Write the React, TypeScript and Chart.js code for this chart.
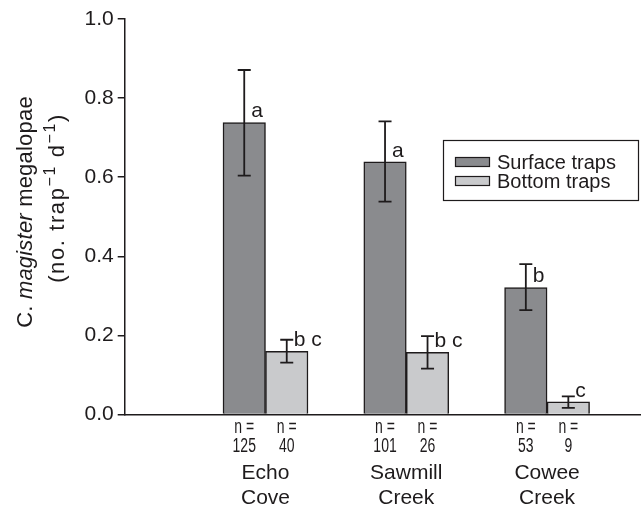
import React, { useEffect, useRef } from "react";
import { Chart, registerables } from "chart.js";

Chart.register(...registerables);

// ---- data ----
const sites = ["Echo Cove", "Sawmill Creek", "Cowee Creek"];
const siteLines = [["Echo", "Cove"], ["Sawmill", "Creek"], ["Cowee", "Creek"]];
const seriesNames = ["Surface traps", "Bottom traps"];

const surfaceMeans = [0.738, 0.639, 0.321];
const surfaceUpper = [0.871, 0.741, 0.38];
const surfaceLower = [0.604, 0.538, 0.264];
const surfaceLetters = ["a", "a", "b"];
const surfaceN = ["125", "101", "53"];

const bottomMeans = [0.16, 0.157, 0.032];
const bottomUpper = [0.189, 0.198, 0.046];
const bottomLower = [0.131, 0.116, 0.017];
const bottomLetters = ["b c", "b c", "c"];
const bottomN = ["40", "26", "9"];

const yTicks = [0, 0.2, 0.4, 0.6, 0.8, 1.0];

const FONT = '"Liberation Sans", Arial, Helvetica, sans-serif';
const INK = "#1e1b1c";
const SURFACE_COLOR = "#8a8b8e";
const BOTTOM_COLOR = "#c9cacc";

const annotatePlugin = {
  id: "annotate",
  afterDatasetsDraw(chart: any) {
    const ctx = chart.ctx;
    const y = chart.scales.y;
    const groups = [
      { upper: surfaceUpper, lower: surfaceLower, letters: surfaceLetters, n: surfaceN },
      { upper: bottomUpper, lower: bottomLower, letters: bottomLetters, n: bottomN },
    ];
    ctx.save();
    groups.forEach((g, d) => {
      const meta = chart.getDatasetMeta(d);
      meta.data.forEach((bar: any, i: number) => {
        const cx = bar.x;
        const yu = y.getPixelForValue(g.upper[i]);
        const yl = y.getPixelForValue(g.lower[i]);
        // error bar
        ctx.strokeStyle = INK;
        ctx.lineWidth = 1.8;
        ctx.beginPath();
        ctx.moveTo(cx, yu);
        ctx.lineTo(cx, yl);
        ctx.moveTo(cx - 6.5, yu);
        ctx.lineTo(cx + 6.5, yu);
        ctx.moveTo(cx - 6.5, yl);
        ctx.lineTo(cx + 6.5, yl);
        ctx.stroke();
        // letters
        ctx.fillStyle = INK;
        ctx.font = `21px ${FONT}`;
        ctx.textAlign = "left";
        ctx.textBaseline = "middle";
        ctx.fillText(g.letters[i], cx + 7, bar.y - 11);
        // n labels (condensed)
        ctx.save();
        ctx.translate(cx, 0);
        ctx.scale(0.7, 1);
        ctx.font = `20px ${FONT}`;
        ctx.textAlign = "center";
        ctx.fillText("n =", 0, 427);
        ctx.fillText(g.n[i], 0, 446);
        ctx.restore();
      });
    });

    // legend
    ctx.strokeStyle = INK;
    ctx.lineWidth = 1.2;
    ctx.strokeRect(443.5, 140.5, 195, 60);
    const colors = [SURFACE_COLOR, BOTTOM_COLOR];
    seriesNames.forEach((name, k) => {
      const cy = 162 + k * 19;
      ctx.fillStyle = colors[k];
      ctx.fillRect(455.5, cy - 4.5, 34, 9);
      ctx.strokeStyle = INK;
      ctx.lineWidth = 1.2;
      ctx.strokeRect(455.5, cy - 4.5, 34, 9);
      ctx.fillStyle = INK;
      ctx.font = `20px ${FONT}`;
      ctx.textAlign = "left";
      ctx.textBaseline = "middle";
      ctx.fillText(name, 497, cy + 1);
    });

    // y-axis title (two rotated lines)
    const drawRuns = (runs: any[], cx: number, cyMid: number, spacing: number) => {
      ctx.save();
      ctx.translate(cx, cyMid);
      ctx.rotate(-Math.PI / 2);
      let total = 0;
      runs.forEach((r) => {
        ctx.font = r.font;
        for (const ch of r.t) total += ctx.measureText(ch).width + spacing;
      });
      let x = -total / 2;
      ctx.textAlign = "left";
      ctx.textBaseline = "middle";
      ctx.fillStyle = INK;
      runs.forEach((r) => {
        ctx.font = r.font;
        for (const ch of r.t) {
          ctx.fillText(ch, x, r.dy || 0);
          x += ctx.measureText(ch).width + spacing;
        }
      });
      ctx.restore();
    };
    const F = `22px ${FONT}`;
    const FI = `italic 22px ${FONT}`;
    const FS = `16px ${FONT}`;
    drawRuns([{ t: "C. ", font: F }, { t: "magister", font: FI }, { t: " megalopae", font: F }], 26, 212, 0.2);
    drawRuns(
      [
        { t: "(no. trap", font: F },
        { t: "\u22121", font: FS, dy: -7 },
        { t: " d", font: F },
        { t: "\u22121", font: FS, dy: -7 },
        { t: ")", font: F },
      ],
      58,
      198,
      1.6
    );
    ctx.restore();
  },
};

export default function App() {
  const ref = useRef<HTMLCanvasElement | null>(null);
  useEffect(() => {
    if (!ref.current) return;
    const chart = new Chart(ref.current, {
      type: "bar",
      data: {
        datasets: [
          {
            label: seriesNames[0],
            data: surfaceMeans.map((v, i) => ({ x: i + 1, y: v })),
            backgroundColor: SURFACE_COLOR,
            borderColor: INK,
            borderWidth: 1.5,
          },
          {
            label: seriesNames[1],
            data: bottomMeans.map((v, i) => ({ x: i + 1, y: v })),
            backgroundColor: BOTTOM_COLOR,
            borderColor: INK,
            borderWidth: 1.5,
          },
        ],
      },
      options: {
        animation: false,
        responsive: false,
        barThickness: 42.5,
        layout: { padding: { top: 19, right: 1, left: 0, bottom: 0 } },
        plugins: { legend: { display: false }, tooltip: { enabled: false } },
        scales: {
          x: {
            type: "linear",
            offset: false,
            min: 0,
            max: 3.66,
            afterBuildTicks: (scale: any) => {
              scale.ticks = sites.map((_, i) => ({ value: i + 1 }));
            },
            afterFit: (scale: any) => {
              scale.height = 92.5;
            },
            grid: { display: false, drawTicks: false, offset: false },
            border: { display: true, color: INK, width: 1.5 },
            ticks: {
              autoSkip: false,
              maxRotation: 0,
              padding: 47,
              color: INK,
              font: { family: FONT, size: 21, lineHeight: 1.15 },
              callback: (v: any) => siteLines[Math.round(v) - 1] || "",
            },
          },
          y: {
            min: 0,
            max: 1,
            afterBuildTicks: (scale: any) => {
              scale.ticks = yTicks.map((v) => ({ value: v }));
            },
            afterFit: (scale: any) => {
              scale.width = 124.7;
            },
            grid: { drawOnChartArea: false, drawTicks: true, tickLength: 7, color: INK, lineWidth: 1.5 },
            border: { display: true, color: INK, width: 1.5 },
            ticks: {
              padding: 4,
              color: INK,
              font: { family: FONT, size: 21 },
              callback: (v: any) => Number(v).toFixed(1),
            },
          },
        },
      },
      plugins: [annotatePlugin],
    } as any);
    return () => chart.destroy();
  }, []);
  return (
    <div style={{ position: "fixed", left: 0, top: 0, width: 641, height: 507, background: "#fff" }}>
      <canvas ref={ref} width={641} height={507} style={{ display: "block" }} />
    </div>
  );
}
